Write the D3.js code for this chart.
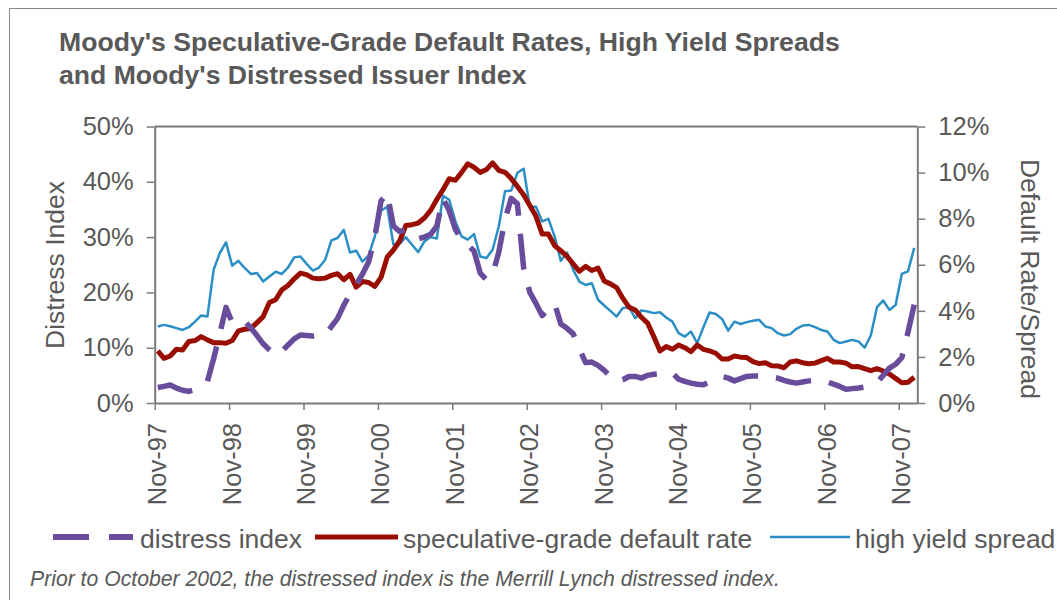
<!DOCTYPE html>
<html>
<head>
<meta charset="utf-8">
<script src="https://cdn.jsdelivr.net/npm/d3@7"></script>
<style>
  html, body { margin: 0; padding: 0; background: #fff; }
  svg { display: block; }
  text { font-family: "Liberation Sans", Arial, sans-serif; fill: #595959; }
</style>
</head>
<body>
<svg id="chart" width="1057" height="600"></svg>
<script>
// ---- data (monthly, Nov-97 .. Jan-08) ----
const tickLabels = ["Nov-97","Nov-98","Nov-99","Nov-00","Nov-01","Nov-02","Nov-03","Nov-04","Nov-05","Nov-06","Nov-07"];
const leftTicks = [0, 10, 20, 30, 40, 50];
const rightTicks = [0, 2, 4, 6, 8, 10, 12];

// Moody's / Merrill Lynch distress index (%), left axis
const distressIndex = [
  2.8, 3.0, 3.25, 2.7, 2.3, 2.1, 2.4, 3.0, 3.9, 8.0, 12.5, 17.3,
  14.5, 14.6, 14.8, 13.6, 12.2, 10.7, 9.6, 8.6, 9.3, 10.5, 11.6, 12.3,
  12.2, 12.1, 12.2, 12.3, 13.8, 15.3, 17.7, 19.7, 21.4, 23.3, 25.5, 30.0,
  36.5, 38.0, 32.0, 31.0, 31.4, 30.5, 29.7, 30.0, 30.5, 32.0, 37.0, 34.8,
  31.4, 29.5, 28.6, 27.5, 23.5, 22.3, 23.2, 27.3, 33.2, 37.0, 36.0, 24.5,
  20.0, 18.0, 15.8, 17.0, 18.0, 14.3, 13.5, 12.5, 9.8, 7.3, 7.4, 6.8,
  5.9, 4.8, 3.9, 4.2, 4.8, 4.8, 4.5, 5.0, 5.2, 5.3, 5.4, 5.4,
  4.3, 3.9, 3.6, 3.4, 3.3, 3.8, 4.5, 4.8, 4.5, 4.0, 4.4, 4.8,
  4.9, 4.9, 4.8, 4.7, 4.5, 4.1, 3.8, 3.6, 3.8, 4.0, 4.1, 4.0,
  3.8, 3.4, 3.0, 2.5, 2.6, 2.7, 2.9, 3.3, 3.7, 5.0, 6.3, 7.0,
  8.2, 12.8, 17.8
];

// speculative-grade default rate (%), right axis
const defaultRate = [
  2.26, 1.94, 2.04, 2.33, 2.30, 2.67, 2.71, 2.88, 2.74, 2.62, 2.62, 2.59,
  2.71, 3.13, 3.20, 3.23, 3.49, 3.75, 4.36, 4.48, 4.91, 5.10, 5.39, 5.64,
  5.57, 5.42, 5.39, 5.42, 5.54, 5.61, 5.35, 5.58, 5.03, 5.27, 5.23, 5.06,
  5.45, 6.33, 6.64, 7.03, 7.70, 7.74, 7.81, 8.03, 8.36, 8.83, 9.26, 9.73,
  9.67, 10.01, 10.38, 10.23, 10.01, 10.13, 10.42, 10.10, 10.01, 9.74, 9.40, 9.04,
  8.57, 8.10, 7.33, 7.33, 6.83, 6.61, 6.36, 6.04, 5.71, 5.93, 5.75, 5.86,
  5.30, 5.17, 5.01, 4.55, 4.16, 4.04, 3.72, 3.47, 2.88, 2.26, 2.45, 2.33,
  2.52, 2.40, 2.23, 2.52, 2.33, 2.26, 2.16, 1.91, 1.91, 2.04, 1.99, 1.97,
  1.80, 1.71, 1.75, 1.62, 1.61, 1.53, 1.78, 1.83, 1.75, 1.70, 1.73, 1.84,
  1.94, 1.78, 1.78, 1.73, 1.57, 1.58, 1.49, 1.40, 1.49, 1.39, 1.26, 1.07,
  0.88, 0.90, 1.12
];

// high yield spread (%), right axis
const highYieldSpread = [
  3.32, 3.39, 3.33, 3.25, 3.17, 3.29, 3.53, 3.80, 3.75, 5.78, 6.51, 6.97,
  5.96, 6.17, 5.86, 5.60, 5.64, 5.27, 5.49, 5.70, 5.60, 5.88, 6.32, 6.36,
  6.04, 5.75, 5.88, 6.22, 7.06, 7.16, 7.52, 6.53, 6.61, 6.14, 6.40, 7.23,
  8.34, 8.52, 6.88, 6.90, 7.20, 6.87, 6.55, 7.01, 7.20, 7.14, 8.99, 8.82,
  7.88, 7.23, 7.09, 7.33, 6.36, 6.29, 6.65, 7.67, 9.19, 9.22, 9.99, 10.17,
  8.52, 8.52, 7.88, 7.99, 7.23, 6.17, 6.53, 5.78, 5.27, 5.12, 5.20, 4.48,
  4.23, 4.00, 3.75, 4.12, 4.16, 3.68, 4.02, 3.97, 3.90, 3.94, 3.71, 3.53,
  3.03, 2.88, 3.10, 2.60, 3.29, 3.93, 3.86, 3.65, 3.14, 3.53, 3.43, 3.51,
  3.57, 3.61, 3.32, 3.25, 3.03, 2.93, 2.99, 3.22, 3.36, 3.39, 3.29, 3.17,
  3.10, 2.74, 2.60, 2.67, 2.74, 2.67, 2.40, 2.93, 4.16, 4.45, 4.04, 4.25,
  5.60, 5.71, 6.73
];

const seriesNames = ["distress index", "speculative-grade default rate", "high yield spread"];

// ---- drawing ----
const svg = d3.select("#chart");
const colors = { distress: "#6a4c9c", rate: "#990e00", spread: "#2b8fc6", axis: "#7a7a7a" };

const plot = { left: 154.7, right: 917.3, top: 126.5, bottom: 403 };
const nMonths = distressIndex.length;

svg.append("rect").attr("x", 0).attr("y", 0).attr("width", 1057).attr("height", 600).attr("fill", "#fff");
// chart area border
svg.append("rect").attr("x", 9.5).attr("y", 8.5).attr("width", 1100).attr("height", 700)
  .attr("fill", "none").attr("stroke", "#8a8a8a").attr("stroke-width", 1);

const x = d3.scaleLinear().domain([0, nMonths]).range([plot.left, plot.right]);
const yL = d3.scaleLinear().domain([0, 50]).range([plot.bottom, plot.top]);
const yR = d3.scaleLinear().domain([0, 12]).range([plot.bottom, plot.top]);

// title
const title = svg.append("text").attr("x", 59).attr("font-size", 26.6).attr("font-weight", "bold");
title.append("tspan").attr("x", 59).attr("y", 51).text("Moody's Speculative-Grade Default Rates, High Yield Spreads");
title.append("tspan").attr("x", 59).attr("y", 84).text("and Moody's Distressed Issuer Index");

// plot frame (top line)
svg.append("line").attr("x1", plot.left).attr("x2", plot.right).attr("y1", plot.top).attr("y2", plot.top)
  .attr("stroke", colors.axis).attr("stroke-width", 2);

function styleAxis(g) {
  g.select(".domain").attr("stroke", colors.axis).attr("stroke-width", 2);
  g.selectAll(".tick line").attr("stroke", colors.axis).attr("stroke-width", 1.5);
  g.selectAll(".tick text").attr("font-size", 25.5).attr("fill", "#595959")
    .attr("font-family", "'Liberation Sans', Arial, sans-serif");
}

// left axis
const gL = svg.append("g").attr("transform", `translate(${plot.left},0)`)
  .call(d3.axisLeft(yL).tickValues(leftTicks).tickFormat(d => d + "%").tickSize(8).tickSizeOuter(0).tickPadding(13));
styleAxis(gL);

// right axis
const gR = svg.append("g").attr("transform", `translate(${plot.right},0)`)
  .call(d3.axisRight(yR).tickValues(rightTicks).tickFormat(d => d + "%").tickSize(8).tickSizeOuter(0).tickPadding(13));
styleAxis(gR);

// bottom axis
const xTickIdx = tickLabels.map((d, i) => i * 12);
const gB = svg.append("g").attr("transform", `translate(0,${plot.bottom})`)
  .call(d3.axisBottom(x).tickValues(xTickIdx).tickFormat((d, i) => tickLabels[i]).tickSize(7).tickSizeOuter(0));
styleAxis(gB);
gB.selectAll(".tick text")
  .attr("text-anchor", "end")
  .attr("transform", "rotate(-90)")
  .attr("x", -20).attr("y", 2).attr("dy", "0.35em");

// axis titles
svg.append("text").attr("transform", "translate(55,265) rotate(-90)")
  .attr("text-anchor", "middle").attr("dominant-baseline", "central").attr("font-size", 26.5).text("Distress Index");
svg.append("text").attr("transform", "translate(1030,279) rotate(90)")
  .attr("text-anchor", "middle").attr("dominant-baseline", "central").attr("font-size", 26.5).text("Default Rate/Spread");

// lines
const lineL = d3.line().x((d, i) => x(i + 0.5)).y(d => yL(d));
const lineR = d3.line().x((d, i) => x(i + 0.5)).y(d => yR(d));

svg.append("path").datum(highYieldSpread).attr("d", lineR)
  .attr("fill", "none").attr("stroke", colors.spread).attr("stroke-width", 2.5).attr("stroke-linejoin", "round");
svg.append("path").datum(defaultRate).attr("d", lineR)
  .attr("fill", "none").attr("stroke", colors.rate).attr("stroke-width", 5).attr("stroke-linejoin", "round");
svg.append("path").datum(distressIndex).attr("d", lineL)
  .attr("fill", "none").attr("stroke", colors.distress).attr("stroke-width", 5.5)
  .attr("stroke-dasharray", "36,18").attr("stroke-linejoin", "round");

// legend
const legendY = 537;
const legend = [
  { name: seriesNames[0], x1: 53, x2: 133, color: colors.distress, w: 6, dash: "36,20", tx: 140 },
  { name: seriesNames[1], x1: 315, x2: 398, color: colors.rate, w: 5, dash: null, tx: 403 },
  { name: seriesNames[2], x1: 770, x2: 850, color: colors.spread, w: 2.5, dash: null, tx: 855 }
];
legend.forEach(l => {
  const ln = svg.append("line").attr("x1", l.x1).attr("x2", l.x2).attr("y1", legendY).attr("y2", legendY)
    .attr("stroke", l.color).attr("stroke-width", l.w);
  if (l.dash) ln.attr("stroke-dasharray", l.dash);
  svg.append("text").attr("x", l.tx).attr("y", legendY + 11).attr("font-size", 26.5).text(l.name);
});

// footnote
svg.append("text").attr("x", 30).attr("y", 586).attr("font-size", 21.2).attr("font-style", "italic")
  .text("Prior to October 2002, the distressed index is the Merrill Lynch distressed index.");
</script>
</body>
</html>
